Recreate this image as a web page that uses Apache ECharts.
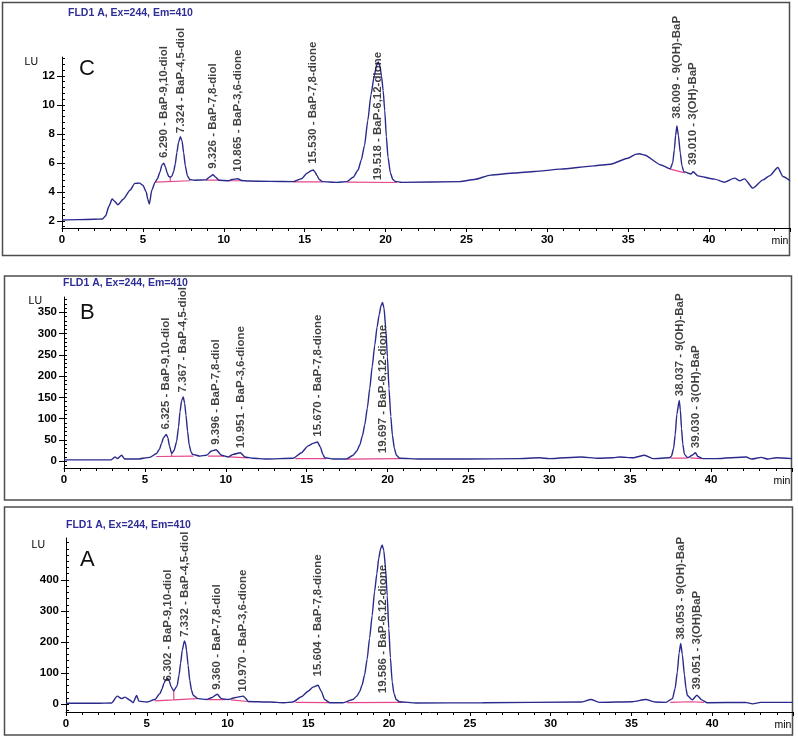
<!DOCTYPE html>
<html><head><meta charset="utf-8">
<script src="https://cdn.jsdelivr.net/npm/echarts@6/dist/echarts.min.js"></script>
<style>html,body{margin:0;padding:0;background:#fff}#c{width:798px;height:737px}</style>
</head><body><div id="c"></div>
<script>
// ---- Chromatogram traces [time (min), signal (LU)] ----
const traceC = [[0,2.05],[1,2.08],[2,2.1],[2.5,2.12],[2.7,2.35],[2.9,3.0],[3.1,3.5],[3.25,3.35],[3.45,3.1],[3.8,3.5],[4.2,4.1],[4.5,4.58],[4.8,4.6],[5.0,4.45],[5.2,4.0],[5.3,3.5],[5.4,3.15],[5.55,4.1],[5.75,4.65],[5.9,4.9],[6.05,5.35],[6.18,5.85],[6.29,5.97],[6.4,5.7],[6.5,5.3],[6.6,5.05],[6.7,5.0],[6.8,5.1],[6.9,5.4],[7.0,5.9],[7.1,6.7],[7.2,7.4],[7.32,7.8],[7.42,7.5],[7.52,6.7],[7.62,5.8],[7.75,5.1],[7.9,4.85],[8.2,4.8],[8.9,4.82],[9.1,5.0],[9.33,5.17],[9.5,5.0],[9.7,4.8],[10.3,4.76],[10.5,4.85],[10.87,4.9],[11.1,4.78],[11.5,4.74],[12.9,4.72],[14.3,4.7],[14.8,4.9],[15.15,5.28],[15.4,5.45],[15.53,5.5],[15.65,5.35],[15.75,5.15],[15.9,4.85],[16.1,4.7],[17.0,4.65],[17.6,4.7],[18.0,5.0],[18.3,5.5],[18.5,6.2],[18.7,7.2],[18.9,8.9],[19.1,10.7],[19.3,12.0],[19.45,12.75],[19.55,12.95],[19.65,12.7],[19.75,12.0],[19.85,11.0],[19.95,9.6],[20.05,7.8],[20.15,6.4],[20.3,5.3],[20.45,4.85],[20.6,4.72],[21,4.65],[24.6,4.7],[25.5,4.85],[26.5,5.15],[28,5.3],[29.2,5.4],[30.8,5.56],[32.9,5.79],[33.9,5.9],[34.97,6.31],[35.5,6.6],[35.7,6.62],[36,6.54],[37.03,5.85],[37.6,5.58],[37.75,6.0],[37.85,6.9],[37.93,7.9],[38.01,8.54],[38.1,7.9],[38.22,6.66],[38.32,5.8],[38.43,5.39],[38.89,5.23],[39.01,5.38],[39.3,5.1],[40.33,4.87],[40.95,4.66],[41.57,4.94],[41.88,4.76],[42.19,4.89],[42.7,4.25],[43.33,4.82],[43.73,5.1],[44.25,5.67],[44.56,5.05],[45,4.76]];
const traceB = [[0,3],[1,3],[2,3],[2.9,3],[3.15,10],[3.3,6],[3.56,14],[3.75,5],[4.5,5],[5.3,9],[5.72,18],[5.9,28],[6.03,42],[6.15,55],[6.32,63],[6.42,55],[6.52,36],[6.65,18],[6.8,25],[6.96,46],[7.08,80],[7.17,116],[7.27,142],[7.37,151],[7.46,136],[7.54,108],[7.64,70],[7.74,38],[7.85,22],[7.95,16],[8.4,12],[8.81,14],[9.12,24],[9.4,27],[9.74,14],[10.15,10],[10.46,16],[10.9,20],[11.18,10],[11.7,7],[12.5,5],[14.16,7],[14.68,20],[15.09,36],[15.4,42],[15.67,45],[15.85,33],[16.0,16],[16.12,8],[16.63,5],[17.46,5],[17.87,14],[18.1,24],[18.28,38],[18.45,60],[18.59,85],[18.75,125],[18.9,171],[19.05,222],[19.21,273],[19.35,315],[19.48,344],[19.6,366],[19.69,373],[19.78,360],[19.89,312],[19.99,245],[20.09,171],[20.2,105],[20.3,61],[20.42,30],[20.55,14],[20.75,7],[22,5],[25,5],[28,6],[29.4,8],[30,6],[31.98,10],[33,7],[33.93,8],[34.34,10],[35.17,8],[35.89,14],[36.4,6],[37.43,8],[37.55,12],[37.68,30],[37.78,62],[37.88,110],[38.03,143],[38.1,120],[38.17,77],[38.25,40],[38.35,16],[38.56,8],[38.83,14],[39.03,20],[39.18,11],[39.49,6],[40.31,6],[42.17,10],[42.5,5],[43.1,9],[43.5,5],[44.02,8],[45,6]];
const traceA = [[0,3],[1,3],[2,3],[2.82,4],[3.17,26],[3.44,18],[3.65,23],[3.96,13],[4.16,5],[4.37,28],[4.51,10],[4.99,7],[5.5,15],[5.81,34],[5.95,50],[6.06,67],[6.18,79],[6.3,83],[6.4,74],[6.5,57],[6.67,43],[6.88,60],[7.0,95],[7.09,131],[7.2,175],[7.33,204],[7.4,195],[7.46,174],[7.56,125],[7.66,77],[7.77,45],[7.87,29],[8.18,18],[8.7,15],[9.0,21],[9.36,32],[9.62,18],[10.03,15],[10.44,21],[10.97,26],[11.1,20],[11.27,9],[12.6,7],[13.5,5],[14.05,7],[14.57,24],[14.98,42],[15.29,55],[15.6,61],[15.8,42],[16.01,15],[16.32,5],[17.14,5],[17.76,15],[18.0,26],[18.17,40],[18.33,62],[18.48,94],[18.64,145],[18.79,212],[18.95,285],[19.1,362],[19.24,420],[19.36,470],[19.47,500],[19.57,513],[19.67,495],[19.78,438],[19.88,350],[19.98,244],[20.08,150],[20.19,72],[20.3,35],[20.44,15],[20.64,8],[21.67,4],[25.79,5],[31.87,7],[32.49,15],[33,6],[35.06,8],[35.89,15],[36.5,7],[37.13,6],[37.54,18],[37.7,50],[37.84,104],[37.95,165],[38.05,196],[38.15,160],[38.28,94],[38.38,50],[38.46,28],[38.77,14],[39.05,29],[39.35,14],[39.7,5],[42.07,6],[42.5,1],[43,6],[45,6]];

// ---- Integration baselines (null separates segments) ----
const baseC = [[5.76,4.66],[7.93,4.76],null,[6.69,4.7],[6.69,5.0],null,[8.9,4.8],[9.75,4.8],null,[10.3,4.76],[11.2,4.76],null,[14.3,4.68],[16.1,4.68],null,[17.6,4.66],[20.7,4.64],null,[37.6,5.56],[38.5,5.3]];
const baseB = [[5.7,11],[8.0,12],null,[6.65,11],[6.65,18],null,[8.9,12],[9.9,12],null,[10.2,10],[11.4,8],null,[14.3,6],[16.2,6],null,[17.5,5],[20.8,6],null,[37.5,7],[38.5,7],null,[38.7,8],[39.4,6]];
const baseA = [[5.5,11],[8.1,18],null,[6.67,14],[6.67,43],null,[8.8,15],[9.9,15],null,[10.2,14],[11.4,8],null,[14.2,6],[16.3,5],null,[17.4,5],[20.8,6],null,[37.4,6],[38.7,8],null,[38.7,8],[39.5,6]];

// ---- Peak annotations ----
const peakTimesC = [6.290,7.324,9.326,10.865,15.530,19.518,38.009,39.010];
const peakNamesC = ['BaP-9,10-diol','BaP-4,5-diol','BaP-7,8-diol','BaP-3,6-dione','BaP-7,8-dione','BaP-6,12-dione','9(OH)-BaP','3(OH)-BaP'];
const labelAtC = [6.2,7.9,5.45,5.25,5.8,4.65,8.9,5.7];
const peakTimesB = [6.325,7.367,9.396,10.951,15.670,19.697,38.037,39.030];
const peakNamesB = ['BaP-9,10-diol','BaP-4,5-diol','BaP-7,8-diol','BaP-3,6-dione','BaP-7,8-dione','BaP-6,12-dione','9(OH)-BaP','3(OH)-BaP'];
const labelAtB = [70,157,34,26,53,14,148,26];
const peakTimesA = [6.302,7.332,9.360,10.970,15.604,19.586,38.053,39.051];
const peakNamesA = ['BaP-9,10-diol','BaP-4,5-diol','BaP-7,8-diol','BaP-3,6-dione','BaP-7,8-dione','BaP-6,12-dione','9(OH)-BaP','3(OH)BaP'];
const labelAtA = [67,210,40,34,83,29,201,40];

// ---- Axis ticks ----
const yTicksC = [2,4,6,8,10,12];
const yTicksB = [0,50,100,150,200,250,300,350];
const yTicksA = [0,100,200,300,400];
const panelLetters = ['C','B','A'];
const titleText = 'FLD1 A, Ex=244, Em=410';

const FONT = '"Liberation Sans", Arial, sans-serif';
const LINE = '#2a2a8c', PINK = '#e4468c';

function minorVals(lo, hi, step){ const a=[]; for(let v=lo; v<=hi+1e-9; v+=step) a.push(+v.toFixed(3)); return a; }

const panels = [
  {trace:traceC, base:baseC, times:peakTimesC, names:peakNamesC, at:labelAtC, ticks:yTicksC, min:1.5, max:13.3, minor:minorVals(1.6,13.2,0.4), grid:{left:62, top:57, right:8, bottom:509}, lu:{gap:-5, pad:24}},
  {trace:traceB, base:baseB, times:peakTimesB, names:peakNamesB, at:labelAtB, ticks:yTicksB, min:-16, max:386, minor:minorVals(-10,380,10), grid:{left:64, top:297, right:6, bottom:269}, lu:{gap:-5, pad:22}},
  {trace:traceA, base:baseA, times:peakTimesA, names:peakNamesA, at:labelAtA, ticks:yTicksA, min:-25, max:535, minor:minorVals(-20,520,20), grid:{left:66, top:538, right:5, bottom:25}, lu:{gap:-7, pad:21}}
];

const grids=[], xAxes=[], yAxes=[], series=[];
panels.forEach((p,i)=>{
  grids.push(Object.assign({outerBoundsMode:'none', containLabel:false}, p.grid));
  xAxes.push({type:'value', gridIndex:i, min:0, max:45, interval:5,
    axisLine:{show:true, onZero:false, lineStyle:{color:'#000', width:1}},
    axisTick:{show:true, length:4, lineStyle:{color:'#000'}},
    minorTick:{show:true, splitNumber:5, length:3, lineStyle:{color:'#000'}},
    splitLine:{show:false}, minorSplitLine:{show:false},
    axisLabel:{color:'#000', fontFamily:FONT, fontWeight:'bold', fontSize:11.5, margin:6, formatter:v=> v===45?'':String(v)},
    name:'min', nameLocation:'end', nameGap:-10,
    nameTextStyle:{color:'#000', fontFamily:FONT, fontSize:10.5, align:'center', verticalAlign:'top', padding:[8,0,0,0]}
  });
  yAxes.push({type:'value', gridIndex:i, min:p.min, max:p.max,
    axisLine:{show:true, lineStyle:{color:'#000', width:1}},
    axisTick:{show:true, length:5, customValues:p.ticks, lineStyle:{color:'#000'}},
    axisLabel:{show:true, customValues:p.ticks, color:'#000', fontFamily:FONT, fontWeight:'bold', fontSize:11.5, margin:7},
    splitLine:{show:false},
    name:'LU', nameLocation:'end', nameGap:p.lu.gap,
    nameTextStyle:{color:'#000', fontFamily:FONT, fontSize:10.5, align:'right', verticalAlign:'middle', padding:[0,p.lu.pad,0,0]}
  });
  yAxes.push({type:'value', gridIndex:i, min:p.min, max:p.max, position:'left',
    axisLine:{show:false}, axisLabel:{show:false}, splitLine:{show:false},
    axisTick:{show:true, inside:true, length:3, customValues:p.minor, lineStyle:{color:'#000'}}
  });
  series.push({type:'line', xAxisIndex:i, yAxisIndex:2*i, data:p.base, showSymbol:false, symbol:'none', connectNulls:false,
    lineStyle:{color:PINK, width:1.2}, z:2, silent:true, animation:false});
  series.push({type:'line', xAxisIndex:i, yAxisIndex:2*i, data:p.trace, showSymbol:false, symbol:'none', smooth:0.2, smoothMonotone:'x',
    lineStyle:{color:LINE, width:1.4}, z:3, silent:true, animation:false});
  series.push({type:'scatter', xAxisIndex:i, yAxisIndex:2*i, symbolSize:0, silent:true, animation:false, z:5,
    data:p.times.map((t,k)=>({value:[t,p.at[k]], name:t.toFixed(3)+' - '+p.names[k]})),
    label:{show:true, position:'top', distance:2, rotate:90, align:'left', verticalAlign:'middle',
      formatter:d=>d.name, color:'#111', fontFamily:FONT, fontWeight:'bold', fontSize:11.5}
  });
});

const titles = [
  {text:titleText, left:68, top:8}, {text:titleText, left:63, top:278}, {text:titleText, left:66, top:520}
].map(t=>Object.assign(t,{padding:0, textStyle:{color:'#2e2e96', fontFamily:FONT, fontWeight:'bold', fontSize:10.5}}));
[[79,58],[80,302],[80,549]].forEach((pos,i)=>titles.push({text:panelLetters[i], left:pos[0], top:pos[1], padding:0,
  textStyle:{color:'#111', fontFamily:FONT, fontWeight:'normal', fontSize:22}}));

const boxStyle = {fill:'none', stroke:'#4d4d4d', lineWidth:1.5};
const chart = echarts.init(document.getElementById('c'), null, {renderer:'canvas'});
chart.setOption({
  animation:false, backgroundColor:'#fff',
  title:titles, grid:grids, xAxis:xAxes, yAxis:yAxes, series:series,
  graphic:[
    {type:'rect', shape:{x:2.5,y:2.5,width:787,height:253}, style:boxStyle, silent:true, z:-1},
    {type:'rect', shape:{x:4.5,y:276,width:787,height:224}, style:boxStyle, silent:true, z:-1},
    {type:'rect', shape:{x:4.5,y:507,width:788,height:228}, style:boxStyle, silent:true, z:-1}
  ]
});
</script></body></html>
